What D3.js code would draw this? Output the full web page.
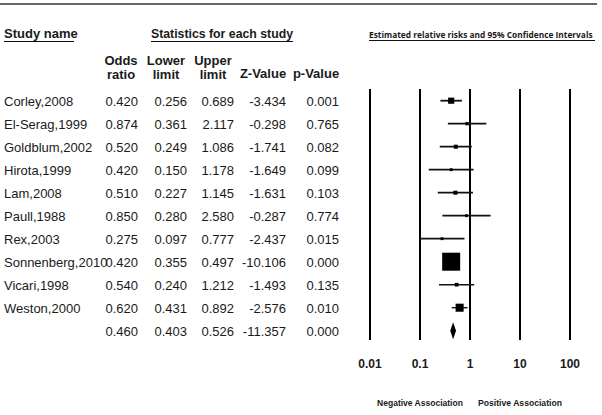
<!DOCTYPE html>
<html><head><meta charset="utf-8">
<script src="https://cdn.jsdelivr.net/npm/d3@7/dist/d3.min.js"></script>
<style>body{margin:0;background:#fff}svg{display:block}</style>
</head><body>
<script>
const studies = ["Corley,2008","El-Serag,1999","Goldblum,2002","Hirota,1999","Lam,2008","Paull,1988","Rex,2003","Sonnenberg,2010","Vicari,1998","Weston,2000",""];
const oddsRatio = [0.420,0.874,0.520,0.420,0.510,0.850,0.275,0.420,0.540,0.620,0.460];
const lowerLimit = [0.256,0.361,0.249,0.150,0.227,0.280,0.097,0.355,0.240,0.431,0.403];
const upperLimit = [0.689,2.117,1.086,1.178,1.145,2.580,0.777,0.497,1.212,0.892,0.526];
const zValue = [-3.434,-0.298,-1.741,-1.649,-1.631,-0.287,-2.437,-10.106,-1.493,-2.576,-11.357];
const pValue = [0.001,0.765,0.082,0.099,0.103,0.774,0.015,0.000,0.135,0.010,0.000];
const weights = [7,2,3,1.5,3,1.5,1.5,60,2.5,12];
const tickValues = [0.01,0.1,1,10,100];
const tickLabels = ["0.01","0.1","1","10","100"];

const W=602,H=415;
const svg=d3.select("body").append("svg").attr("width",W).attr("height",H);
const font="Liberation Sans, Arial, sans-serif";

const x=d3.scaleLog().domain([0.01,100]).range([370,570]);
const y=d3.scaleLinear().domain([0,10]).range([100.7,330.7]);
const size=d3.scaleSqrt().domain([0,60]).range([0,18]);

// top rule
svg.append("line").attr("x1",0).attr("x2",597).attr("y1",4).attr("y2",4).attr("stroke","#333").attr("stroke-width",1.5);

function txt(t,px,py,opts={}){
  return svg.append("text").attr("x",px).attr("y",py).text(t)
    .attr("font-family",opts.family||font).attr("font-size",opts.size||13)
    .attr("font-weight",opts.bold?"bold":"normal").attr("text-anchor",opts.anchor||"start")
    .attr("fill","#1a1a1a");
}
function ul(x1,x2,yy){svg.append("line").attr("x1",x1).attr("x2",x2).attr("y1",yy).attr("y2",yy).attr("stroke","#111").attr("stroke-width",1);}
function fitSize(el,target,base){
  const w=el.node().getComputedTextLength();
  el.attr("font-size",base*target/w);
}

txt("Study name",4,38,{bold:true});ul(4,74,41.5);
txt("Statistics for each study",151,38,{bold:true}).attr("textLength",142).attr("lengthAdjust","spacingAndGlyphs");ul(151,293,41.5);
const et=txt("Estimated relative risks and 95% Confidence Intervals",369,38,{bold:true,size:9,family:"Open Sans, sans-serif"});
fitSize(et,224,9);
ul(369,595,40.5);

const fmt=v=>d3.format(".3f")(v).replace("\u2212","-");
const cols=[{r:138,c:121,h:["Odds","ratio"],v:oddsRatio},
 {r:187,c:166,h:["Lower","limit"],v:lowerLimit},
 {r:234,c:213,h:["Upper","limit"],v:upperLimit},
 {r:286,c:263,h:["Z-Value"],v:zValue},
 {r:339,c:316,h:["p-Value"],v:pValue}];
cols.forEach(c=>{
  if(c.h.length===2){txt(c.h[0],c.c,65,{bold:true,anchor:"middle"});txt(c.h[1],c.c,79,{bold:true,anchor:"middle"});}
  else txt(c.h[0],c.c,78,{bold:true,anchor:"middle"});
  c.v.forEach((v,i)=>txt(fmt(v),c.r,y(i)+5,{anchor:"end"}));
});
studies.forEach((s,i)=>{ if(s) txt(s,4,y(i)+5); });

// vertical reference lines
tickValues.forEach(t=>{
  svg.append("line").attr("x1",x(t)).attr("x2",x(t)).attr("y1",89).attr("y2",340).attr("stroke","#000").attr("stroke-width",2);
});
tickValues.forEach((t,i)=>txt(tickLabels[i],x(t),368,{bold:true,size:12,anchor:"middle"}));
const na=txt("Negative Association",420,406,{bold:true,size:9,anchor:"middle"}); fitSize(na,86,9);
const pa=txt("Positive Association",520,406,{bold:true,size:9,anchor:"middle"}); fitSize(pa,84,9);

// study markers
for(let i=0;i<10;i++){
  const yy=y(i);
  svg.append("line").attr("x1",x(lowerLimit[i])).attr("x2",x(upperLimit[i])).attr("y1",yy).attr("y2",yy)
    .attr("stroke","#111").attr("stroke-width",i>=7?1.4:1.8);
  const s=size(weights[i]);
  svg.append("rect").attr("x",x(oddsRatio[i])-s/2).attr("y",yy-s/2).attr("width",s).attr("height",s).attr("fill","#000");
}
// summary diamond
const yy=y(10);
svg.append("path").attr("d",`M${x(lowerLimit[10])},${yy}L${x(oddsRatio[10])},${yy-8.5}L${x(upperLimit[10])},${yy}L${x(oddsRatio[10])},${yy+8.5}Z`).attr("fill","#000");
</script>
</body></html>
